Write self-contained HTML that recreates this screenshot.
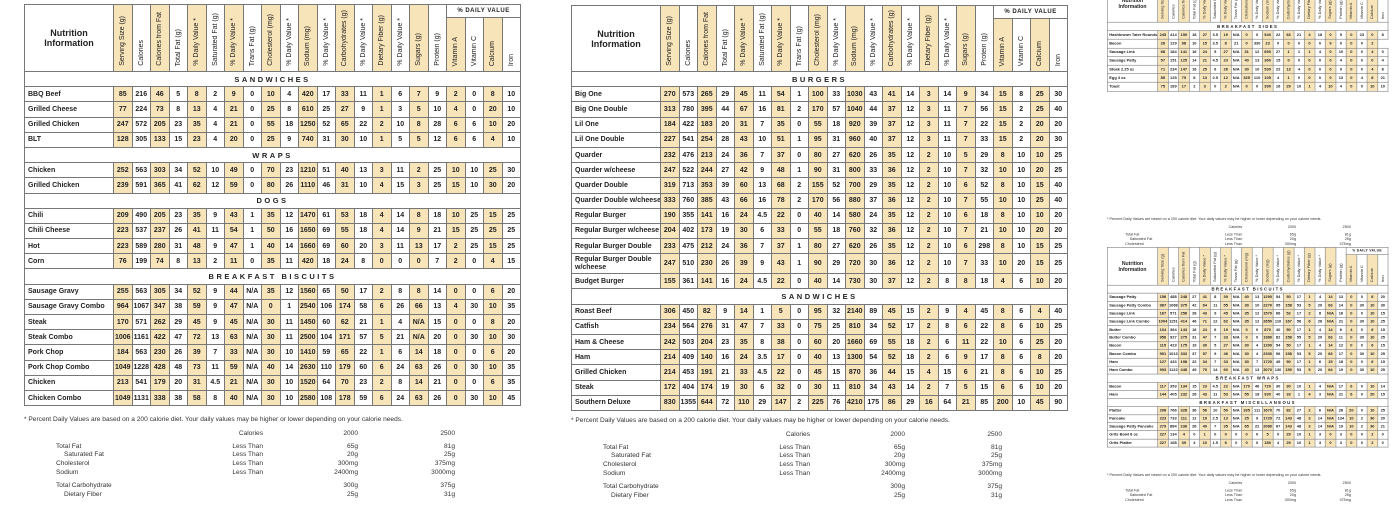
<!DOCTYPE html>
<html><head><meta charset="utf-8">
<style>
html,body{margin:0;padding:0;background:#fff;}
body{width:1400px;height:500px;position:relative;overflow:hidden;font-family:"Liberation Sans Narrow","Liberation Sans",sans-serif;color:#222;}
.p{position:absolute;width:496px;}
.sc{transform-origin:0 0;transform:scale(0.566);}
table{border-collapse:collapse;table-layout:fixed;width:496px;}
col{width:18.5px}
col.nm{width:89px}
col.h{background:#f7e4b9}
td,th{border:1px solid #777;padding:0;text-align:center;font-size:7px;font-weight:bold;overflow:hidden;white-space:nowrap;}
tbody tr{height:15.2px}
tbody td:first-child{text-align:left;padding-left:3px;font-size:7px;background:#fff}
tr.s td{background:#fff;text-align:center;letter-spacing:2.5px;font-size:7.5px;padding:0}
tr.d{height:20px}
tr.d td:first-child{white-space:normal;line-height:8px}
th{vertical-align:bottom;padding-bottom:3px;font-weight:normal}
th.nmh{vertical-align:middle;font-weight:bold;font-size:9px;line-height:10px;background:#fff;padding:0}
th.dv{background:#fff;font-weight:bold;font-size:6px;vertical-align:middle;padding:0;letter-spacing:.5px}
.v{writing-mode:vertical-rl;transform:rotate(180deg);display:inline-block;font-size:7px;}
.f{position:absolute;left:0;top:412px;width:496px;height:100px;font-family:"Liberation Sans",sans-serif;font-size:6.6px;color:#333;}
.f div{position:absolute;white-space:nowrap}
.r{text-align:right}
</style></head><body>

<!-- LEFT PANEL -->
<div class="p" style="left:24px;top:4px">
<table>
<colgroup><col class="nm"><col class="h"><col><col class="h"><col><col class="h"><col><col class="h"><col><col class="h"><col><col class="h"><col><col class="h"><col><col class="h"><col><col class="h"><col><col class="h"><col><col class="h"><col></colgroup>
<thead>
<tr style="height:13px"><th class="nmh" rowspan="2">Nutrition<br>Information</th><th rowspan="2"><div class="v">Serving Size (g)</div></th><th rowspan="2"><div class="v">Calories</div></th><th rowspan="2"><div class="v">Calories from Fat</div></th><th rowspan="2"><div class="v">Total Fat (g)</div></th><th rowspan="2"><div class="v">% Daily Value *</div></th><th rowspan="2"><div class="v">Saturated Fat (g)</div></th><th rowspan="2"><div class="v">% Daily Value *</div></th><th rowspan="2"><div class="v">Trans Fat (g)</div></th><th rowspan="2"><div class="v">Cholesterol (mg)</div></th><th rowspan="2"><div class="v">% Daily Value *</div></th><th rowspan="2"><div class="v">Sodium (mg)</div></th><th rowspan="2"><div class="v">% Daily Value *</div></th><th rowspan="2"><div class="v">Carbohydrates (g)</div></th><th rowspan="2"><div class="v">% Daily Value *</div></th><th rowspan="2"><div class="v">Dietary Fiber (g)</div></th><th rowspan="2"><div class="v">% Daily Value *</div></th><th rowspan="2"><div class="v">Sugars (g)</div></th><th rowspan="2"><div class="v">Protein (g)</div></th><th class="dv" colspan="4">% DAILY VALUE</th></tr>
<tr style="height:54px"><th><div class="v">Vitamin A</div></th><th><div class="v">Vitamin C</div></th><th><div class="v">Calcium</div></th><th><div class="v">Iron</div></th></tr>
</thead>
<tbody>
<tr class="s"><td colspan="23">SANDWICHES</td></tr>
<tr><td>BBQ Beef<td>85<td>216<td>46<td>5<td>8<td>2<td>9<td>0<td>10<td>4<td>420<td>17<td>33<td>11<td>1<td>6<td>7<td>9<td>2<td>0<td>8<td>10</tr>
<tr><td>Grilled Cheese<td>77<td>224<td>73<td>8<td>13<td>4<td>21<td>0<td>25<td>8<td>610<td>25<td>27<td>9<td>1<td>3<td>5<td>10<td>4<td>0<td>20<td>10</tr>
<tr><td>Grilled Chicken<td>247<td>572<td>205<td>23<td>35<td>4<td>21<td>0<td>55<td>18<td>1250<td>52<td>65<td>22<td>2<td>10<td>8<td>28<td>6<td>6<td>10<td>20</tr>
<tr><td>BLT<td>128<td>305<td>133<td>15<td>23<td>4<td>20<td>0<td>25<td>9<td>740<td>31<td>30<td>10<td>1<td>5<td>5<td>12<td>6<td>6<td>4<td>10</tr>
<tr class="s"><td colspan="23">WRAPS</td></tr>
<tr><td>Chicken<td>252<td>563<td>303<td>34<td>52<td>10<td>49<td>0<td>70<td>23<td>1210<td>51<td>40<td>13<td>3<td>11<td>2<td>25<td>10<td>10<td>25<td>30</tr>
<tr><td>Grilled Chicken<td>239<td>591<td>365<td>41<td>62<td>12<td>59<td>0<td>80<td>26<td>1110<td>46<td>31<td>10<td>4<td>15<td>3<td>25<td>15<td>10<td>30<td>20</tr>
<tr class="s"><td colspan="23">DOGS</td></tr>
<tr><td>Chili<td>209<td>490<td>205<td>23<td>35<td>9<td>43<td>1<td>35<td>12<td>1470<td>61<td>53<td>18<td>4<td>14<td>8<td>18<td>10<td>25<td>15<td>25</tr>
<tr><td>Chili Cheese<td>223<td>537<td>237<td>26<td>41<td>11<td>54<td>1<td>50<td>16<td>1650<td>69<td>55<td>18<td>4<td>14<td>9<td>21<td>15<td>25<td>25<td>25</tr>
<tr><td>Hot<td>223<td>589<td>280<td>31<td>48<td>9<td>47<td>1<td>40<td>14<td>1660<td>69<td>60<td>20<td>3<td>11<td>13<td>17<td>2<td>25<td>15<td>25</tr>
<tr><td>Corn<td>76<td>199<td>74<td>8<td>13<td>2<td>11<td>0<td>35<td>11<td>420<td>18<td>24<td>8<td>0<td>0<td>0<td>7<td>2<td>0<td>4<td>15</tr>
<tr class="s"><td colspan="23">BREAKFAST BISCUITS</td></tr>
<tr><td>Sausage Gravy<td>255<td>563<td>305<td>34<td>52<td>9<td>44<td>N/A<td>35<td>12<td>1560<td>65<td>50<td>17<td>2<td>8<td>8<td>14<td>0<td>0<td>6<td>20</tr>
<tr><td>Sausage Gravy Combo<td>964<td>1067<td>347<td>38<td>59<td>9<td>47<td>N/A<td>0<td>1<td>2540<td>106<td>174<td>58<td>6<td>26<td>66<td>13<td>4<td>30<td>10<td>35</tr>
<tr><td>Steak<td>170<td>571<td>262<td>29<td>45<td>9<td>45<td>N/A<td>30<td>11<td>1450<td>60<td>62<td>21<td>1<td>4<td>N/A<td>15<td>0<td>0<td>8<td>20</tr>
<tr><td>Steak Combo<td>1006<td>1161<td>422<td>47<td>72<td>13<td>63<td>N/A<td>30<td>11<td>2500<td>104<td>171<td>57<td>5<td>21<td>N/A<td>20<td>0<td>30<td>10<td>30</tr>
<tr><td>Pork Chop<td>184<td>563<td>230<td>26<td>39<td>7<td>33<td>N/A<td>30<td>10<td>1410<td>59<td>65<td>22<td>1<td>6<td>14<td>18<td>0<td>0<td>6<td>20</tr>
<tr><td>Pork Chop Combo<td>1049<td>1228<td>428<td>48<td>73<td>11<td>59<td>N/A<td>40<td>14<td>2630<td>110<td>179<td>60<td>6<td>24<td>63<td>26<td>0<td>30<td>10<td>35</tr>
<tr><td>Chicken<td>213<td>541<td>179<td>20<td>31<td>4.5<td>21<td>N/A<td>30<td>10<td>1520<td>64<td>70<td>23<td>2<td>8<td>14<td>21<td>0<td>0<td>6<td>35</tr>
<tr><td>Chicken Combo<td>1049<td>1131<td>338<td>38<td>58<td>8<td>40<td>N/A<td>30<td>10<td>2580<td>108<td>178<td>59<td>6<td>24<td>63<td>26<td>0<td>30<td>10<td>45</tr>
</tbody></table>
<div class="f">
<div style="left:0;top:0">* Percent Daily Values are based on a 200 calorie diet. Your daily values may be higher or lower depending on your calorie needs.</div>
<div class="r" style="right:257px;top:14px">Calories</div><div class="r" style="right:162px;top:14px">2000</div><div class="r" style="right:65px;top:14px">2500</div>
<div style="left:32px;top:27px">Total Fat</div><div class="r" style="right:257px;top:27px">Less Than</div><div class="r" style="right:162px;top:27px">65g</div><div class="r" style="right:65px;top:27px">81g</div>
<div style="left:40px;top:35px">Saturated Fat</div><div class="r" style="right:257px;top:35px">Less Than</div><div class="r" style="right:162px;top:35px">20g</div><div class="r" style="right:65px;top:35px">25g</div>
<div style="left:32px;top:44px">Cholesterol</div><div class="r" style="right:257px;top:44px">Less Than</div><div class="r" style="right:162px;top:44px">300mg</div><div class="r" style="right:65px;top:44px">375mg</div>
<div style="left:32px;top:53px">Sodium</div><div class="r" style="right:257px;top:53px">Less Than</div><div class="r" style="right:162px;top:53px">2400mg</div><div class="r" style="right:65px;top:53px">3000mg</div>
<div style="left:32px;top:66px">Total Carbohydrate</div><div class="r" style="right:162px;top:66px">300g</div><div class="r" style="right:65px;top:66px">375g</div>
<div style="left:40px;top:75px">Dietary Fiber</div><div class="r" style="right:162px;top:75px">25g</div><div class="r" style="right:65px;top:75px">31g</div>
</div>
</div>

<!-- MIDDLE PANEL -->
<div class="p" style="left:571px;top:5px">
<table>
<colgroup><col class="nm"><col class="h"><col><col class="h"><col><col class="h"><col><col class="h"><col><col class="h"><col><col class="h"><col><col class="h"><col><col class="h"><col><col class="h"><col><col class="h"><col><col class="h"><col></colgroup>
<thead>
<tr style="height:13px"><th class="nmh" rowspan="2">Nutrition<br>Information</th><th rowspan="2"><div class="v">Serving Size (g)</div></th><th rowspan="2"><div class="v">Calories</div></th><th rowspan="2"><div class="v">Calories from Fat</div></th><th rowspan="2"><div class="v">Total Fat (g)</div></th><th rowspan="2"><div class="v">% Daily Value *</div></th><th rowspan="2"><div class="v">Saturated Fat (g)</div></th><th rowspan="2"><div class="v">% Daily Value *</div></th><th rowspan="2"><div class="v">Trans Fat (g)</div></th><th rowspan="2"><div class="v">Cholesterol (mg)</div></th><th rowspan="2"><div class="v">% Daily Value *</div></th><th rowspan="2"><div class="v">Sodium (mg)</div></th><th rowspan="2"><div class="v">% Daily Value *</div></th><th rowspan="2"><div class="v">Carbohydrates (g)</div></th><th rowspan="2"><div class="v">% Daily Value *</div></th><th rowspan="2"><div class="v">Dietary Fiber (g)</div></th><th rowspan="2"><div class="v">% Daily Value *</div></th><th rowspan="2"><div class="v">Sugars (g)</div></th><th rowspan="2"><div class="v">Protein (g)</div></th><th class="dv" colspan="4">% DAILY VALUE</th></tr>
<tr style="height:53px"><th><div class="v">Vitamin A</div></th><th><div class="v">Vitamin C</div></th><th><div class="v">Calcium</div></th><th><div class="v">Iron</div></th></tr>
</thead>
<tbody>
<tr class="s"><td colspan="23">BURGERS</td></tr>
<tr><td>Big One<td>270<td>573<td>265<td>29<td>45<td>11<td>54<td>1<td>100<td>33<td>1030<td>43<td>41<td>14<td>3<td>14<td>9<td>34<td>15<td>8<td>25<td>30</tr>
<tr><td>Big One Double<td>313<td>780<td>395<td>44<td>67<td>16<td>81<td>2<td>170<td>57<td>1040<td>44<td>37<td>12<td>3<td>11<td>7<td>56<td>15<td>2<td>25<td>40</tr>
<tr><td>Lil One<td>184<td>422<td>183<td>20<td>31<td>7<td>35<td>0<td>55<td>18<td>920<td>39<td>37<td>12<td>3<td>11<td>7<td>22<td>15<td>2<td>20<td>20</tr>
<tr><td>Lil One Double<td>227<td>541<td>254<td>28<td>43<td>10<td>51<td>1<td>95<td>31<td>960<td>40<td>37<td>12<td>3<td>11<td>7<td>33<td>15<td>2<td>20<td>30</tr>
<tr><td>Quarder<td>232<td>476<td>213<td>24<td>36<td>7<td>37<td>0<td>80<td>27<td>620<td>26<td>35<td>12<td>2<td>10<td>5<td>29<td>8<td>10<td>10<td>25</tr>
<tr><td>Quarder w/cheese<td>247<td>522<td>244<td>27<td>42<td>9<td>48<td>1<td>90<td>31<td>800<td>33<td>36<td>12<td>2<td>10<td>7<td>32<td>10<td>10<td>20<td>25</tr>
<tr><td>Quarder Double<td>319<td>713<td>353<td>39<td>60<td>13<td>68<td>2<td>155<td>52<td>700<td>29<td>35<td>12<td>2<td>10<td>6<td>52<td>8<td>10<td>15<td>40</tr>
<tr><td>Quarder Double w/cheese<td>333<td>760<td>385<td>43<td>66<td>16<td>78<td>2<td>170<td>56<td>880<td>37<td>36<td>12<td>2<td>10<td>7<td>55<td>10<td>10<td>25<td>40</tr>
<tr><td>Regular Burger<td>190<td>355<td>141<td>16<td>24<td>4.5<td>22<td>0<td>40<td>14<td>580<td>24<td>35<td>12<td>2<td>10<td>6<td>18<td>8<td>10<td>10<td>20</tr>
<tr><td>Regular Burger w/cheese<td>204<td>402<td>173<td>19<td>30<td>6<td>33<td>0<td>55<td>18<td>760<td>32<td>36<td>12<td>2<td>10<td>7<td>21<td>10<td>10<td>20<td>20</tr>
<tr><td>Regular Burger Double<td>233<td>475<td>212<td>24<td>36<td>7<td>37<td>1<td>80<td>27<td>620<td>26<td>35<td>12<td>2<td>10<td>6<td>298<td>8<td>10<td>15<td>25</tr>
<tr class="d"><td>Regular Burger Double w/cheese<td>247<td>510<td>230<td>26<td>39<td>9<td>43<td>1<td>90<td>29<td>720<td>30<td>36<td>12<td>2<td>10<td>7<td>33<td>10<td>20<td>15<td>25</tr>
<tr><td>Budget Burger<td>155<td>361<td>141<td>16<td>24<td>4.5<td>22<td>0<td>40<td>14<td>730<td>30<td>37<td>12<td>2<td>8<td>8<td>18<td>4<td>6<td>10<td>20</tr>
<tr class="s"><td colspan="23">SANDWICHES</td></tr>
<tr><td>Roast Beef<td>306<td>450<td>82<td>9<td>14<td>1<td>5<td>0<td>95<td>32<td>2140<td>89<td>45<td>15<td>2<td>9<td>4<td>45<td>8<td>6<td>4<td>40</tr>
<tr><td>Catfish<td>234<td>564<td>276<td>31<td>47<td>7<td>33<td>0<td>75<td>25<td>810<td>34<td>52<td>17<td>2<td>8<td>6<td>22<td>8<td>6<td>10<td>25</tr>
<tr><td>Ham &amp; Cheese<td>242<td>503<td>204<td>23<td>35<td>8<td>38<td>0<td>60<td>20<td>1660<td>69<td>55<td>18<td>2<td>6<td>11<td>22<td>10<td>6<td>25<td>20</tr>
<tr><td>Ham<td>214<td>409<td>140<td>16<td>24<td>3.5<td>17<td>0<td>40<td>13<td>1300<td>54<td>52<td>18<td>2<td>6<td>9<td>17<td>8<td>6<td>8<td>20</tr>
<tr><td>Grilled Chicken<td>214<td>453<td>191<td>21<td>33<td>4.5<td>22<td>0<td>45<td>15<td>870<td>36<td>44<td>15<td>4<td>15<td>6<td>21<td>8<td>6<td>10<td>25</tr>
<tr><td>Steak<td>172<td>404<td>174<td>19<td>30<td>6<td>32<td>0<td>30<td>11<td>810<td>34<td>43<td>14<td>2<td>7<td>5<td>15<td>6<td>6<td>10<td>20</tr>
<tr><td>Southern Deluxe<td>830<td>1355<td>644<td>72<td>110<td>29<td>147<td>2<td>225<td>76<td>4210<td>175<td>86<td>29<td>16<td>64<td>21<td>85<td>200<td>10<td>45<td>90</tr>
</tbody></table>
<div class="f">
<div style="left:0;top:0">* Percent Daily Values are based on a 200 calorie diet. Your daily values may be higher or lower depending on your calorie needs.</div>
<div class="r" style="right:257px;top:14px">Calories</div><div class="r" style="right:162px;top:14px">2000</div><div class="r" style="right:65px;top:14px">2500</div>
<div style="left:32px;top:27px">Total Fat</div><div class="r" style="right:257px;top:27px">Less Than</div><div class="r" style="right:162px;top:27px">65g</div><div class="r" style="right:65px;top:27px">81g</div>
<div style="left:40px;top:35px">Saturated Fat</div><div class="r" style="right:257px;top:35px">Less Than</div><div class="r" style="right:162px;top:35px">20g</div><div class="r" style="right:65px;top:35px">25g</div>
<div style="left:32px;top:44px">Cholesterol</div><div class="r" style="right:257px;top:44px">Less Than</div><div class="r" style="right:162px;top:44px">300mg</div><div class="r" style="right:65px;top:44px">375mg</div>
<div style="left:32px;top:53px">Sodium</div><div class="r" style="right:257px;top:53px">Less Than</div><div class="r" style="right:162px;top:53px">2400mg</div><div class="r" style="right:65px;top:53px">3000mg</div>
<div style="left:32px;top:66px">Total Carbohydrate</div><div class="r" style="right:162px;top:66px">300g</div><div class="r" style="right:65px;top:66px">375g</div>
<div style="left:40px;top:75px">Dietary Fiber</div><div class="r" style="right:162px;top:75px">25g</div><div class="r" style="right:65px;top:75px">31g</div>
</div>
</div>

<!-- RIGHT TOP SMALL PANEL -->
<div class="p sc" style="left:1107px;top:-16px">
<table>
<colgroup><col class="nm"><col class="h"><col><col class="h"><col><col class="h"><col><col class="h"><col><col class="h"><col><col class="h"><col><col class="h"><col><col class="h"><col><col class="h"><col><col class="h"><col><col class="h"><col></colgroup>
<thead>
<tr style="height:13px"><th class="nmh" rowspan="2">Nutrition<br>Information</th><th rowspan="2"><div class="v">Serving Size (g)</div></th><th rowspan="2"><div class="v">Calories</div></th><th rowspan="2"><div class="v">Calories from Fat</div></th><th rowspan="2"><div class="v">Total Fat (g)</div></th><th rowspan="2"><div class="v">% Daily Value *</div></th><th rowspan="2"><div class="v">Saturated Fat (g)</div></th><th rowspan="2"><div class="v">% Daily Value *</div></th><th rowspan="2"><div class="v">Trans Fat (g)</div></th><th rowspan="2"><div class="v">Cholesterol (mg)</div></th><th rowspan="2"><div class="v">% Daily Value *</div></th><th rowspan="2"><div class="v">Sodium (mg)</div></th><th rowspan="2"><div class="v">% Daily Value *</div></th><th rowspan="2"><div class="v">Carbohydrates (g)</div></th><th rowspan="2"><div class="v">% Daily Value *</div></th><th rowspan="2"><div class="v">Dietary Fiber (g)</div></th><th rowspan="2"><div class="v">% Daily Value *</div></th><th rowspan="2"><div class="v">Sugars (g)</div></th><th rowspan="2"><div class="v">Protein (g)</div></th><th class="dv" colspan="4">% DAILY VALUE</th></tr>
<tr style="height:54px"><th><div class="v">Vitamin A</div></th><th><div class="v">Vitamin C</div></th><th><div class="v">Calcium</div></th><th><div class="v">Iron</div></th></tr>
</thead>
<tbody>
<tr class="s"><td colspan="23">BREAKFAST SIDES</td></tr>
<tr><td>Hashbrown Tater Rounds<td>245<td>414<td>159<td>18<td>27<td>3.5<td>19<td>N/A<td>0<td>0<td>540<td>22<td>63<td>21<td>4<td>18<td>0<td>5<td>0<td>23<td>0<td>8</tr>
<tr><td>Bacon<td>26<td>129<td>98<td>10<td>15<td>3.5<td>8<td>21<td>0<td>330<td>23<td>0<td>0<td>0<td>0<td>0<td>9<td>0<td>0<td>0<td>2</tr>
<tr><td>Sausage Link<td>68<td>184<td>141<td>16<td>24<td>5<td>27<td>N/A<td>31<td>12<td>650<td>27<td>1<td>1<td>1<td>4<td>0<td>10<td>0<td>0<td>4<td>0</tr>
<tr><td>Sausage Patty<td>57<td>151<td>125<td>14<td>21<td>4.5<td>23<td>N/A<td>40<td>13<td>360<td>15<td>0<td>0<td>0<td>0<td>0<td>4<td>0<td>0<td>0<td>4</tr>
<tr><td>Steak 2.25 oz<td>71<td>234<td>147<td>16<td>25<td>6<td>26<td>N/A<td>30<td>10<td>530<td>22<td>13<td>4<td>0<td>0<td>0<td>9<td>0<td>0<td>4<td>8</tr>
<tr><td>Egg 3 oz<td>85<td>125<td>75<td>8<td>13<td>2.5<td>12<td>N/A<td>325<td>110<td>105<td>4<td>1<td>0<td>0<td>0<td>0<td>13<td>0<td>4<td>8<td>21</tr>
<tr><td>Toast<td>75<td>189<td>17<td>2<td>3<td>0<td>2<td>N/A<td>0<td>0<td>390<td>16<td>29<td>10<td>1<td>4<td>10<td>4<td>0<td>0<td>10<td>10</tr>
</tbody></table>
<div class="f">
<div style="left:0;top:0">* Percent Daily Values are based on a 200 calorie diet. Your daily values may be higher or lower depending on your calorie needs.</div>
<div class="r" style="right:257px;top:14px">Calories</div><div class="r" style="right:162px;top:14px">2000</div><div class="r" style="right:65px;top:14px">2500</div>
<div style="left:32px;top:27px">Total Fat</div><div class="r" style="right:257px;top:27px">Less Than</div><div class="r" style="right:162px;top:27px">65g</div><div class="r" style="right:65px;top:27px">81g</div>
<div style="left:40px;top:35px">Saturated Fat</div><div class="r" style="right:257px;top:35px">Less Than</div><div class="r" style="right:162px;top:35px">20g</div><div class="r" style="right:65px;top:35px">25g</div>
<div style="left:32px;top:44px">Cholesterol</div><div class="r" style="right:257px;top:44px">Less Than</div><div class="r" style="right:162px;top:44px">300mg</div><div class="r" style="right:65px;top:44px">375mg</div>
</div>
</div>

<!-- RIGHT BOTTOM SMALL PANEL -->
<div class="p sc" style="left:1107px;top:247px">
<table>
<colgroup><col class="nm"><col class="h"><col><col class="h"><col><col class="h"><col><col class="h"><col><col class="h"><col><col class="h"><col><col class="h"><col><col class="h"><col><col class="h"><col><col class="h"><col><col class="h"><col></colgroup>
<thead>
<tr style="height:13px"><th class="nmh" rowspan="2">Nutrition<br>Information</th><th rowspan="2"><div class="v">Serving Size (g)</div></th><th rowspan="2"><div class="v">Calories</div></th><th rowspan="2"><div class="v">Calories from Fat</div></th><th rowspan="2"><div class="v">Total Fat (g)</div></th><th rowspan="2"><div class="v">% Daily Value *</div></th><th rowspan="2"><div class="v">Saturated Fat (g)</div></th><th rowspan="2"><div class="v">% Daily Value *</div></th><th rowspan="2"><div class="v">Trans Fat (g)</div></th><th rowspan="2"><div class="v">Cholesterol (mg)</div></th><th rowspan="2"><div class="v">% Daily Value *</div></th><th rowspan="2"><div class="v">Sodium (mg)</div></th><th rowspan="2"><div class="v">% Daily Value *</div></th><th rowspan="2"><div class="v">Carbohydrates (g)</div></th><th rowspan="2"><div class="v">% Daily Value *</div></th><th rowspan="2"><div class="v">Dietary Fiber (g)</div></th><th rowspan="2"><div class="v">% Daily Value *</div></th><th rowspan="2"><div class="v">Sugars (g)</div></th><th rowspan="2"><div class="v">Protein (g)</div></th><th class="dv" colspan="4">% DAILY VALUE</th></tr>
<tr style="height:54px"><th><div class="v">Vitamin A</div></th><th><div class="v">Vitamin C</div></th><th><div class="v">Calcium</div></th><th><div class="v">Iron</div></th></tr>
</thead>
<tbody>
<tr class="s" style="height:14.3px"><td colspan="23">BREAKFAST BISCUITS</td></tr>
<tr style="height:14.3px"><td>Sausage Patty<td>156<td>488<td>248<td>27<td>41<td>8<td>39<td>N/A<td>40<td>13<td>1290<td>54<td>50<td>17<td>1<td>4<td>14<td>13<td>0<td>0<td>6<td>20</tr>
<tr style="height:14.3px"><td>Sausage Patty Combo<td>987<td>1068<td>375<td>42<td>64<td>11<td>55<td>N/A<td>30<td>10<td>2270<td>95<td>158<td>53<td>5<td>20<td>63<td>14<td>0<td>30<td>10<td>30</tr>
<tr style="height:14.3px"><td>Sausage Link<td>167<td>571<td>256<td>28<td>43<td>9<td>45<td>N/A<td>35<td>12<td>1570<td>66<td>52<td>17<td>2<td>8<td>N/A<td>16<td>0<td>0<td>10<td>15</tr>
<tr style="height:14.3px"><td>Sausage Link Combo<td>1004<td>1151<td>414<td>46<td>71<td>12<td>62<td>N/A<td>35<td>12<td>2650<td>110<td>167<td>56<td>6<td>26<td>N/A<td>21<td>0<td>30<td>10<td>25</tr>
<tr style="height:14.3px"><td>Butter<td>104<td>364<td>143<td>16<td>24<td>6<td>19<td>N/A<td>0<td>0<td>870<td>40<td>50<td>17<td>1<td>4<td>14<td>6<td>4<td>0<td>6<td>15</tr>
<tr style="height:14.3px"><td>Butter Combo<td>956<td>927<td>275<td>31<td>47<td>7<td>33<td>N/A<td>0<td>0<td>1980<td>82<td>158<td>55<td>5<td>20<td>63<td>11<td>0<td>30<td>10<td>25</tr>
<tr style="height:14.3px"><td>Bacon<td>115<td>423<td>175<td>19<td>30<td>5<td>27<td>N/A<td>30<td>4<td>1290<td>54<td>50<td>17<td>1<td>4<td>14<td>12<td>0<td>0<td>6<td>15</tr>
<tr style="height:14.3px"><td>Bacon Combo<td>951<td>1013<td>333<td>37<td>57<td>9<td>46<td>N/A<td>30<td>4<td>2330<td>96<td>158<td>53<td>5<td>20<td>63<td>17<td>0<td>30<td>10<td>25</tr>
<tr style="height:14.3px"><td>Ham<td>127<td>433<td>198<td>22<td>34<td>7<td>33<td>N/A<td>30<td>7<td>1720<td>49<td>50<td>17<td>1<td>6<td>15<td>18<td>0<td>0<td>6<td>15</tr>
<tr style="height:14.3px"><td>Ham Combo<td>993<td>1122<td>448<td>49<td>75<td>14<td>60<td>N/A<td>40<td>13<td>3070<td>130<td>159<td>53<td>5<td>20<td>64<td>19<td>0<td>30<td>10<td>25</tr>
<tr class="s" style="height:14.3px"><td colspan="23">BREAKFAST WRAPS</td></tr>
<tr style="height:14.3px"><td>Bacon<td>117<td>353<td>134<td>15<td>23<td>4.5<td>22<td>N/A<td>170<td>46<td>720<td>30<td>30<td>10<td>1<td>4<td>N/A<td>17<td>6<td>0<td>10<td>14</tr>
<tr style="height:14.3px"><td>Ham<td>144<td>405<td>232<td>26<td>43<td>11<td>53<td>N/A<td>55<td>18<td>930<td>40<td>33<td>1<td>4<td>3<td>N/A<td>21<td>6<td>0<td>20<td>15</tr>
<tr class="s" style="height:14.3px"><td colspan="23">BREAKFAST MISCELLANEOUS</td></tr>
<tr style="height:14.3px"><td>Platter<td>298<td>766<td>328<td>36<td>56<td>10<td>50<td>N/A<td>335<td>111<td>1670<td>70<td>82<td>27<td>2<td>6<td>N/A<td>28<td>20<td>0<td>10<td>25</tr>
<tr style="height:14.3px"><td>Pancake<td>223<td>733<td>111<td>12<td>19<td>2.5<td>13<td>N/A<td>25<td>9<td>1720<td>72<td>143<td>48<td>3<td>14<td>N/A<td>134<td>10<td>2<td>30<td>20</tr>
<tr style="height:14.3px"><td>Sausage Patty Pancake<td>279<td>884<td>236<td>26<td>40<td>7<td>35<td>N/A<td>65<td>22<td>2080<td>87<td>143<td>48<td>3<td>14<td>N/A<td>19<td>10<td>2<td>30<td>21</tr>
<tr style="height:14.3px"><td>Grits Bowl 8 oz<td>227<td>134<td>4<td>0<td>1<td>0<td>0<td>0<td>0<td>0<td>5<td>0<td>29<td>10<td>1<td>3<td>0<td>3<td>0<td>0<td>2<td>0</tr>
<tr style="height:14.3px"><td>Grits Platter<td>227<td>168<td>39<td>4<td>10<td>1.5<td>6<td>0<td>0<td>0<td>180<td>4<td>29<td>10<td>1<td>3<td>0<td>3<td>0<td>0<td>2<td>0</tr>
</tbody></table>
<div class="f" style="top:400px">
<div style="left:0;top:0">* Percent Daily Values are based on a 200 calorie diet. Your daily values may be higher or lower depending on your calorie needs.</div>
<div class="r" style="right:257px;top:14px">Calories</div><div class="r" style="right:162px;top:14px">2000</div><div class="r" style="right:65px;top:14px">2500</div>
<div style="left:32px;top:27px">Total Fat</div><div class="r" style="right:257px;top:27px">Less Than</div><div class="r" style="right:162px;top:27px">65g</div><div class="r" style="right:65px;top:27px">81g</div>
<div style="left:40px;top:35px">Saturated Fat</div><div class="r" style="right:257px;top:35px">Less Than</div><div class="r" style="right:162px;top:35px">20g</div><div class="r" style="right:65px;top:35px">25g</div>
<div style="left:32px;top:44px">Cholesterol</div><div class="r" style="right:257px;top:44px">Less Than</div><div class="r" style="right:162px;top:44px">300mg</div><div class="r" style="right:65px;top:44px">375mg</div>
</div>
</div>

</body></html>
